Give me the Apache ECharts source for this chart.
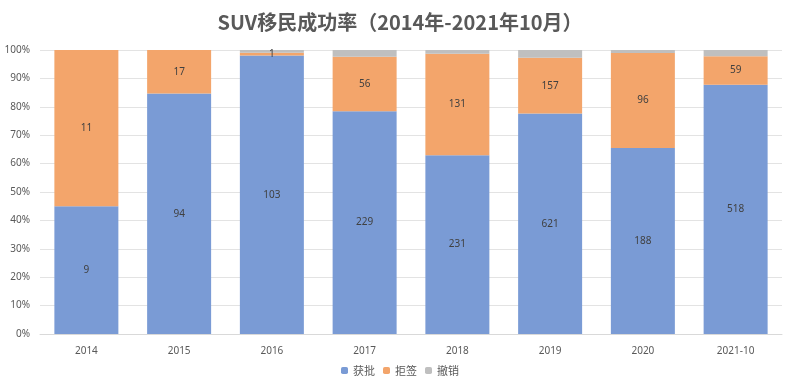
<!DOCTYPE html>
<html><head><meta charset="utf-8">
<script src="https://cdn.jsdelivr.net/npm/echarts@6/dist/echarts.min.js"></script>
<style>html,body{margin:0;padding:0;background:#fff}#c{width:800px;height:385px}</style>
</head><body><div id="c"></div>
<script>
const categories = ['2014','2015','2016','2017','2018','2019','2020','2021-10'];
const approved = [9, 94, 103, 229, 231, 621, 188, 518];
const refused = [11, 17, 1, 56, 131, 157, 96, 59];
const withdrawn = [0, 0, 1, 7, 5, 22, 3, 13];
const yTicks = ['0%','10%','20%','30%','40%','50%','60%','70%','80%','90%','100%'];

const totals = categories.map((c, i) => approved[i] + refused[i] + withdrawn[i]);
const pct = arr => arr.map((v, i) => ({value: v / totals[i] * 100, raw: v}));

const labelCfg = {show: true, position: 'inside', color: '#404040', fontSize: 10,
  fontFamily: 'Noto Sans', formatter: p => p.data.raw > 0 ? p.data.raw : ''};

const chart = echarts.init(document.getElementById('c'));
chart.setOption({
  animation: false,
  title: {text: 'SUV移民成功率（2014年-2021年10月）', left: 'center', top: 7,
    textStyle: {fontSize: 20, fontWeight: 'bold', color: '#595959', fontFamily: 'Noto Sans CJK SC'}},
  legend: {bottom: 4, left: 'center', itemWidth: 7, itemHeight: 7, itemGap: 8,
    textStyle: {fontSize: 11, color: '#595959', fontFamily: 'Noto Sans CJK SC'},
    data: ['获批','拒签','撤销']},
  grid: {left: 40, right: 18, top: 50, bottom: 51},
  xAxis: {type: 'category', data: categories,
    axisLine: {lineStyle: {color: '#d9d9d9'}}, axisTick: {show: false},
    axisLabel: {color: '#595959', fontSize: 10, margin: 12, fontFamily: 'Noto Sans'}},
  yAxis: {type: 'value', min: 0, max: 100, interval: 10,
    axisLine: {show: false}, axisTick: {show: false},
    splitLine: {lineStyle: {color: '#e3e3e3'}},
    axisLabel: {color: '#595959', fontSize: 10, margin: 10, fontFamily: 'Noto Sans',
      formatter: v => yTicks[Math.round(v / 10)]}},
  series: [
    {name: '获批', type: 'bar', stack: 't', barCategoryGap: '31%', data: pct(approved),
      itemStyle: {color: '#7a9bd5'}, label: labelCfg},
    {name: '拒签', type: 'bar', stack: 't', data: pct(refused),
      itemStyle: {color: '#f3a56b'}, label: labelCfg},
    {name: '撤销', type: 'bar', stack: 't', data: pct(withdrawn),
      itemStyle: {color: '#bfbfbf'}, label: {show: false}}
  ]
});
</script></body></html>
